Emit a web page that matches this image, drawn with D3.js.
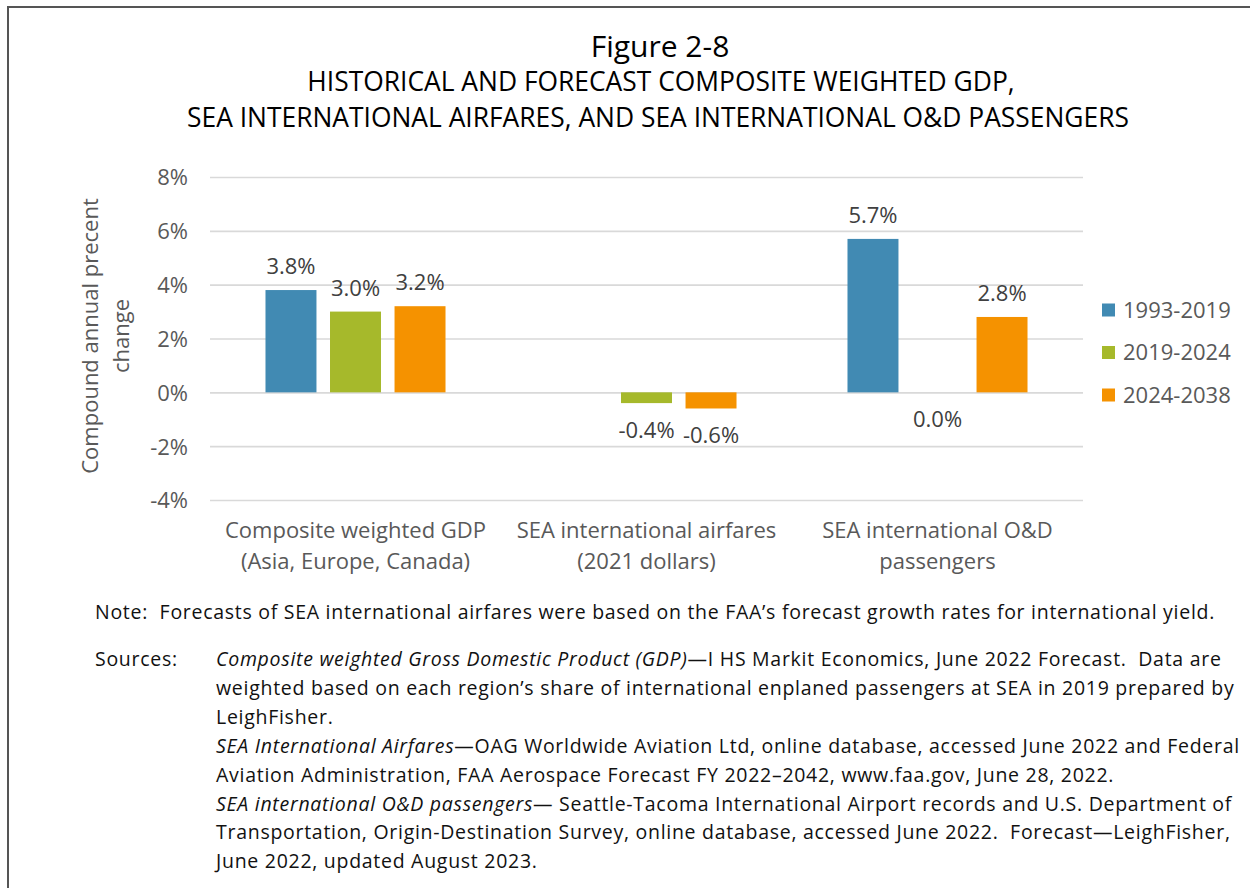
<!DOCTYPE html>
<html><head><meta charset="utf-8">
<script src="https://cdn.jsdelivr.net/npm/d3@7"></script>
<style>body{margin:0;background:#fff}svg{display:block;font-family:"Open Sans",sans-serif}text{white-space:pre}</style>
</head><body><svg id="c" width="1250" height="888"></svg>
<script>
const categories = [["Composite weighted GDP","(Asia, Europe, Canada)"],["SEA international airfares","(2021 dollars)"],["SEA international O&D","passengers"]];
const categoryKeys = ["gdp","fares","pax"];
const seriesNames = ["1993-2019","2019-2024","2024-2038"];
const values1993_2019 = [3.8, null, 5.7];
const values2019_2024 = [3.0, -0.4, 0.0];
const values2024_2038 = [3.2, -0.6, 2.8];
const yTicks = [-4,-2,0,2,4,6,8];
const titleLines = ["Figure 2-8","HISTORICAL AND FORECAST COMPOSITE WEIGHTED GDP,","SEA INTERNATIONAL AIRFARES, AND SEA INTERNATIONAL O&D PASSENGERS"];
const yTitle = ["Compound annual precent","change"];
const noteLine = "Note:  Forecasts of SEA international airfares were based on the FAA’s forecast growth rates for international yield.";
const sourceLines = [
  [["Composite weighted Gross Domestic Product (GDP)",true],["—I HS Markit Economics, June 2022 Forecast.  Data are",false]],
  [["weighted based on each region’s share of international enplaned passengers at SEA in 2019 prepared by",false]],
  [["LeighFisher.",false]],
  [["SEA International Airfares",true],["—OAG Worldwide Aviation Ltd, online database, accessed June 2022 and Federal",false]],
  [["Aviation Administration, FAA Aerospace Forecast FY 2022–2042, www.faa.gov, June 28, 2022.",false]],
  [["SEA international O&D passengers",true],["— Seattle-Tacoma International Airport records and U.S. Department of",false]],
  [["Transportation, Origin-Destination Survey, online database, accessed June 2022.  Forecast—LeighFisher,",false]],
  [["June 2022, updated August 2023.",false]]
];
const colors = ["#418AB3","#A6B92B","#F59200"];

const series = [values1993_2019, values2019_2024, values2024_2038];
const svg = d3.select("#c");

// border
svg.append("path").attr("d","M8,888V7H1250").attr("fill","none").attr("stroke","#555").attr("stroke-width",2);

// title
const tt = svg.append("g").attr("fill","#000").attr("text-anchor","middle");
tt.append("text").attr("x",660).attr("y",57).attr("font-size",30).text(titleLines[0]);
tt.append("text").attr("x",661).attr("y",91).attr("font-size",26.4).text(titleLines[1]);
tt.append("text").attr("x",658).attr("y",127).attr("font-size",26.4).text(titleLines[2]);

const x0 = d3.scaleBand().domain(categoryKeys).range([210,1083]).padding(0);
const x1 = d3.scaleBand().domain(seriesNames).range([0,x0.bandwidth()]).paddingInner(0.21).paddingOuter(0.86);
const y = d3.scaleLinear().domain([-4,8]).range([500,177]);

// grid
const yAxis = d3.axisLeft(y).tickValues(yTicks).tickFormat(d=>d+"%").tickSize(-(1083-210)).tickPadding(22);
const ga = svg.append("g").attr("transform","translate(210,0)").call(yAxis);
ga.select(".domain").remove();
ga.selectAll(".tick line").attr("stroke","#d9d9d9").attr("stroke-width",1.6);
ga.selectAll(".tick text").attr("fill","#595959").attr("font-size",22).attr("font-family","Open Sans").attr("dy","0.36em");

// bars
categoryKeys.forEach((k,i)=>{
  const g = svg.append("g").attr("transform",`translate(${x0(k)},0)`);
  seriesNames.forEach((s,j)=>{
    const v = series[j][i];
    if(v===null) return;
    g.append("rect").attr("x",x1(s)).attr("width",x1.bandwidth())
      .attr("y",y(Math.max(0,v))).attr("height",Math.abs(y(v)-y(0))).attr("fill",colors[j]);
    g.append("text").attr("x",x1(s)+x1.bandwidth()/2)
      .attr("y", v>0 ? y(v)-16 : y(v)+35)
      .attr("text-anchor","middle").attr("font-size",22).attr("fill","#404040")
      .text(v.toFixed(1)+"%");
  });
  const t = svg.append("text").attr("text-anchor","middle").attr("font-size",22).attr("fill","#595959");
  categories[i].forEach((ln,li)=>{
    t.append("tspan").attr("x",x0(k)+x0.bandwidth()/2).attr("y",538+li*31).text(ln);
  });
});

// y title
const yt = svg.append("text").attr("transform","rotate(-90)").attr("text-anchor","middle").attr("font-size",22).attr("fill","#595959");
yTitle.forEach((ln,i)=>{
  yt.append("tspan").attr("x",-336).attr("y",98+i*31).text(ln);
});

// legend
const lg = svg.append("g");
seriesNames.forEach((s,i)=>{
  const cy = 310 + i*42.5;
  lg.append("rect").attr("x",1102).attr("y",cy-6.5).attr("width",13).attr("height",13).attr("fill",colors[i]);
  lg.append("text").attr("x",1123).attr("y",cy).attr("dy","0.36em").attr("font-size",22).attr("fill","#595959").text(s);
});

// notes
const nt = svg.append("g").attr("fill","#111").attr("font-size",19.5).attr("letter-spacing",0.72);
nt.append("text").attr("x",95).attr("y",619).text(noteLine);
nt.append("text").attr("x",95).attr("y",666).text("Sources:");
sourceLines.forEach((parts,i)=>{
  const t = nt.append("text").attr("x",216).attr("y",666+i*28.9);
  parts.forEach(([txt,it])=>{
    t.append("tspan").attr("font-style",it?"italic":"normal").text(txt);
  });
});
</script></body></html>
